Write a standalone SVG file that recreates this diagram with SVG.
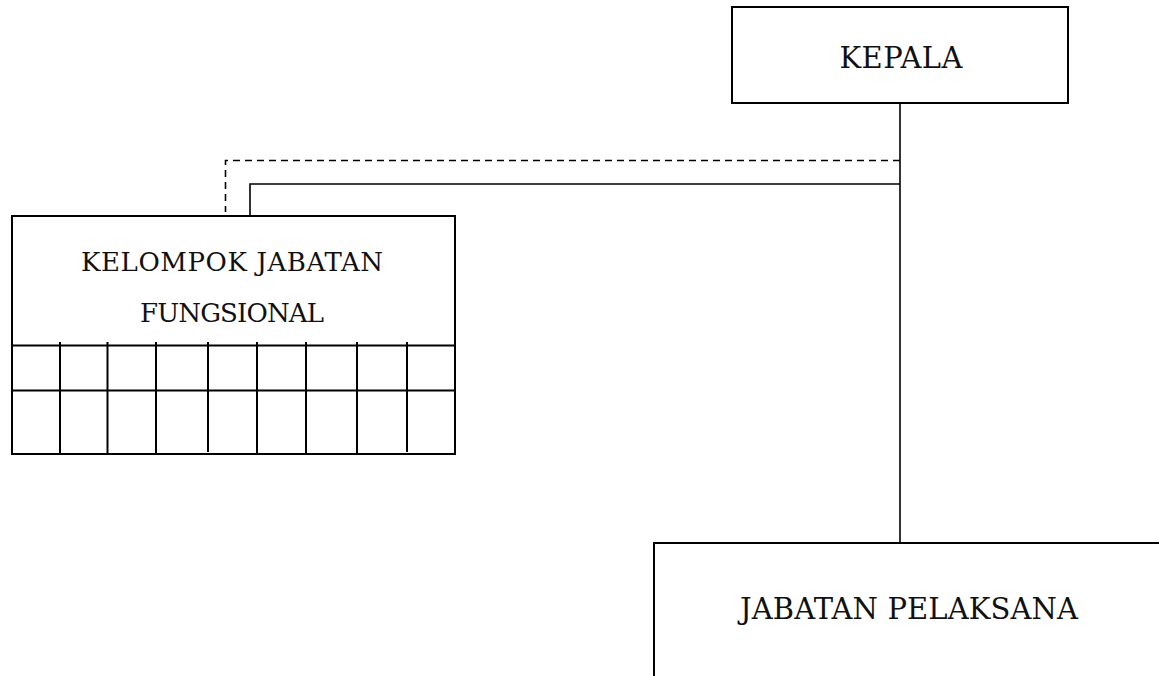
<svg xmlns="http://www.w3.org/2000/svg" width="1159" height="676" viewBox="0 0 1159 676">
  <style>
    .box { fill: #ffffff; stroke: #000000; stroke-width: 2; }
    .grid { fill: none; stroke: #000000; stroke-width: 2; }
    .link { fill: none; stroke: #000000; stroke-width: 1.6; }
    .dash { stroke-dasharray: 7 5; }
    .label { font-family: "DejaVu Serif", serif; fill: #111111; text-anchor: middle; }
  </style>
  <rect width="1159" height="676" fill="#ffffff"/>

  <!-- connectors -->
  <g id="connectors">
    <path class="link" d="M900 103 V543"/>
    <path class="link dash" d="M900 160.5 H225.5 V212"/>
    <path class="link" d="M900 184 H250 V216"/>
  </g>

  <!-- head -->
  <g id="kepala">
    <rect class="box" x="732" y="7" width="336" height="96"/>
    <text class="label" x="901" y="68" font-size="29" textLength="123" lengthAdjust="spacing">KEPALA</text>
  </g>

  <!-- functional group with member grid -->
  <g id="kelompok-jabatan-fungsional">
    <rect class="box" x="12" y="216" width="443" height="238"/>
    <text class="label" x="232" y="271" font-size="26" textLength="302" lengthAdjust="spacing">KELOMPOK JABATAN</text>
    <text class="label" x="232" y="322" font-size="26" textLength="184" lengthAdjust="spacing">FUNGSIONAL</text>
    <path class="grid" d="M12 345.5 H455 M12 390.5 H455"/>
    <path class="grid" d="M60 342 V454 M107.5 342 V454 M156 342 V454 M208 342 V452 M257 342 V454 M306 342 V454 M357 342 V454 M407 342 V452"/>
  </g>

  <!-- staff positions -->
  <g id="jabatan-pelaksana">
    <path class="box" fill="none" d="M654 676 V543 H1160"/>
    <text class="label" x="909" y="619" font-size="29" textLength="338" lengthAdjust="spacing">JABATAN PELAKSANA</text>
  </g>
</svg>
